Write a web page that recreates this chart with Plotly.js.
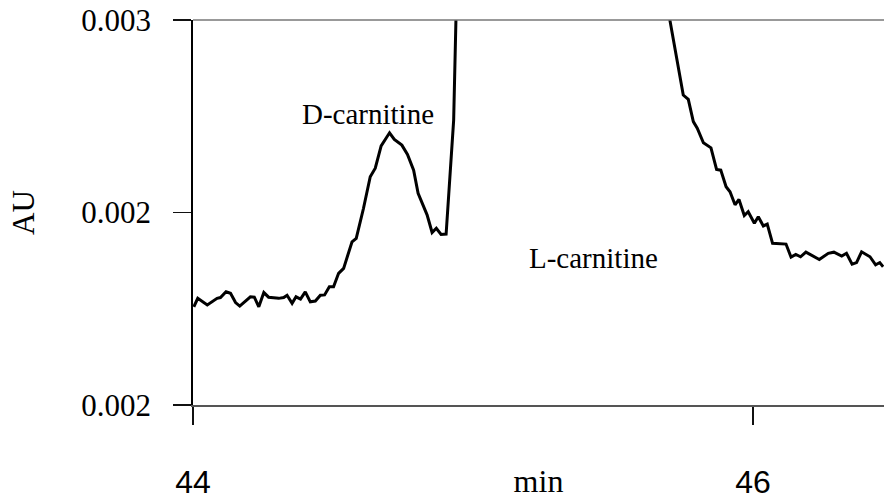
<!DOCTYPE html>
<html>
<head>
<meta charset="utf-8">
<script src="https://cdn.plot.ly/plotly-3.0.1.min.js"></script>
<style>html,body{margin:0;padding:0;background:#fff;}#chart{width:884px;height:499px;}</style>
</head>
<body>
<div id="chart"></div>
<script>
// Retention time (min)
var timeMin = [
  44.003, 44.017, 44.051, 44.086, 44.098, 44.118, 44.134, 44.152, 44.167, 44.187,
  44.205, 44.219, 44.235, 44.253, 44.270, 44.306, 44.324, 44.336, 44.354, 44.368,
  44.384, 44.401, 44.419, 44.437, 44.455, 44.470, 44.487, 44.502, 44.520, 44.538,
  44.568, 44.583, 44.609, 44.633, 44.651, 44.672, 44.702, 44.719, 44.746, 44.766,
  44.788, 44.804, 44.836, 44.854, 44.869, 44.886, 44.904, 44.931, 44.944, 45.311,
  45.686, 45.704, 45.751, 45.769, 45.787, 45.801, 45.823, 45.850, 45.870, 45.885,
  45.904, 45.918, 45.936, 45.950, 45.969, 45.983, 46.005, 46.019, 46.037, 46.051,
  46.070, 46.118, 46.136, 46.153, 46.170, 46.189, 46.237, 46.269, 46.289, 46.317,
  46.334, 46.354, 46.370, 46.388, 46.418, 46.438, 46.453, 46.465
];
// Absorbance (AU)
var absorbance = [
  0.002255, 0.002277, 0.002260, 0.002277, 0.002279, 0.002294, 0.002290, 0.002266, 0.002257, 0.002270,
  0.002281, 0.002280, 0.002255, 0.002292, 0.002280, 0.002277, 0.002279, 0.002285, 0.002264, 0.002281,
  0.002275, 0.002294, 0.002268, 0.002270, 0.002285, 0.002286, 0.002307, 0.002307, 0.002342, 0.002355,
  0.002424, 0.002433, 0.002511, 0.002593, 0.002615, 0.002673, 0.002707, 0.002690, 0.002675, 0.002651,
  0.002610, 0.002550, 0.002494, 0.002448, 0.002459, 0.002443, 0.002444, 0.002740, 0.003156, 0.005200,
  0.003070, 0.002997, 0.002805, 0.002794, 0.002736, 0.002719, 0.002681, 0.002668, 0.002612, 0.002610,
  0.002567, 0.002554, 0.002520, 0.002534, 0.002492, 0.002502, 0.002472, 0.002489, 0.002465, 0.002470,
  0.002420, 0.002418, 0.002384, 0.002391, 0.002385, 0.002397, 0.002378, 0.002394, 0.002397, 0.002387,
  0.002394, 0.002366, 0.002370, 0.002398, 0.002385, 0.002364, 0.002370, 0.002359
];
var yTickVals = [0.002, 0.0025, 0.003];
var yTickText = ["0.002", "0.002", "0.003"];
var xTickVals = [44, 46];
var xTickText = ["44", "46"];
var peakLabels = ["D-carnitine", "L-carnitine"];

var serif = "Liberation Serif, Times New Roman, serif";
var sans = "Liberation Sans, Arial, sans-serif";

var trace = {
  x: timeMin, y: absorbance, type: "scatter", mode: "lines",
  line: {color: "#000", width: 3, shape: "linear"},
  hoverinfo: "skip", showlegend: false
};

var layout = {
  width: 884, height: 499,
  margin: {l: 193, r: 0, t: 20, b: 94, pad: 0},
  paper_bgcolor: "#fff", plot_bgcolor: "#fff",
  showlegend: false,
  xaxis: {
    range: [44, 46.468], showgrid: false, zeroline: false,
    showline: true, linecolor: "#555", linewidth: 1.5,
    ticks: "outside", ticklen: 18, tickwidth: 1.5, tickcolor: "#111",
    tickvals: xTickVals, ticktext: xTickText,
    tickfont: {family: sans, size: 32, color: "#000"},
    ticklabelstandoff: 30,
    title: {text: "min", font: {family: serif, size: 32, color: "#000"}, standoff: 0}
  },
  yaxis: {
    range: [0.002, 0.003], showgrid: false, zeroline: false,
    showline: true, linecolor: "#000", linewidth: 1.8,
    ticks: "outside", ticklen: 18, tickwidth: 1.5, tickcolor: "#111",
    tickvals: yTickVals, ticktext: yTickText,
    tickfont: {family: serif, size: 31, color: "#000"},
    ticklabelstandoff: 16,
    title: {text: "AU", font: {family: serif, size: 31, color: "#000"}, standoff: 37}
  },
  shapes: [{
    type: "line", xref: "paper", yref: "paper", x0: 0, x1: 1, y0: 1, y1: 1,
    line: {color: "#777", width: 1.5}
  }],
  annotations: [
    {text: peakLabels[0], xref: "paper", yref: "paper", x: 0.253, y: 0.756,
     xanchor: "center", yanchor: "middle", showarrow: false,
     font: {family: serif, size: 29, color: "#000"}},
    {text: peakLabels[1], xref: "paper", yref: "paper", x: 0.579, y: 0.382,
     xanchor: "center", yanchor: "middle", showarrow: false,
     font: {family: serif, size: 29, color: "#000"}}
  ]
};

Plotly.newPlot("chart", [trace], layout, {staticPlot: true, displayModeBar: false});
</script>
</body>
</html>
